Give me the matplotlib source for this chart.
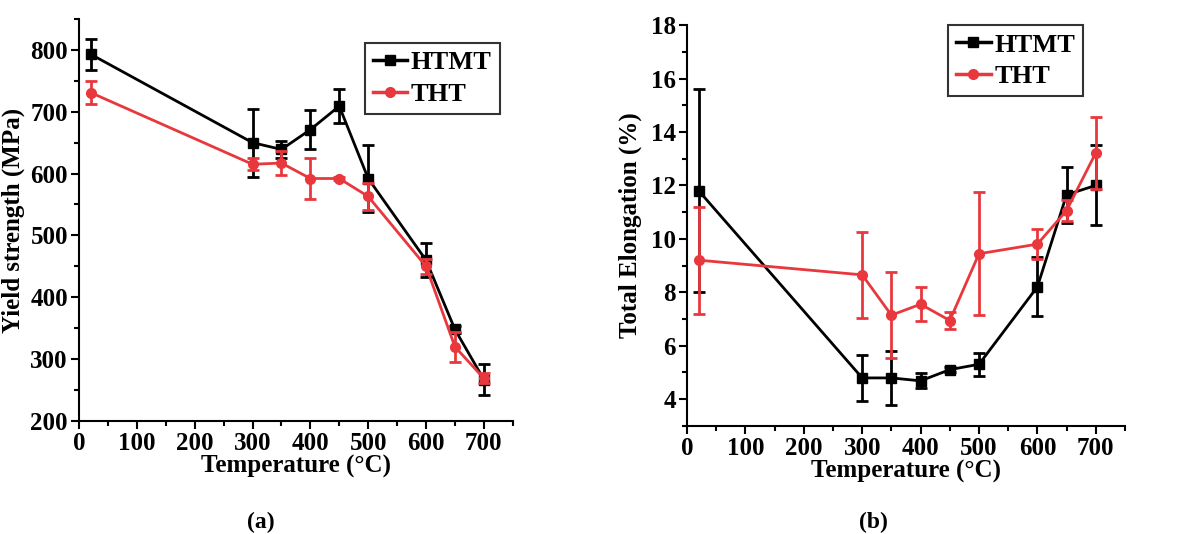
import numpy as np
import matplotlib
matplotlib.use("Agg")
import matplotlib.pyplot as plt
from matplotlib.ticker import MultipleLocator
from matplotlib.lines import Line2D

plt.rcParams['font.family'] = ['Liberation Serif', 'DejaVu Serif']
plt.rcParams['font.weight'] = 'bold'

temps = [20, 300, 350, 400, 450, 500, 600, 650, 700]

# yield strength (MPa)
ys_htmt = [793, 650, 639, 671, 709, 592, 460, 348, 267]
ys_htmt_err = [25, 55, 14, 31, 27, 54, 28, 5, 25]
ys_tht = [731, 615, 617, 592, 592, 563, 450, 320, 269]
ys_tht_err = [18, 10, 20, 33, 3, 22, 12, 24, 8]

# total elongation (%)
el_htmt = [11.8, 4.79, 4.79, 4.68, 5.1, 5.3, 8.2, 11.65, 12.0]
el_htmt_err = [3.8, 0.85, 1.0, 0.28, 0.1, 0.42, 1.1, 1.05, 1.5]
el_tht = [9.2, 8.65, 7.14, 7.55, 6.94, 9.44, 9.8, 11.06, 13.22]
el_tht_err = [2.0, 1.6, 1.6, 0.63, 0.33, 2.3, 0.55, 0.4, 1.35]

black = '#000000'
red = '#e8383d'

fig = plt.figure(figsize=(11.95, 5.34), dpi=100)
ax1 = fig.add_axes([0.0661, 0.2116, 0.363, 0.753])
ax2 = fig.add_axes([0.5749, 0.2028, 0.3665, 0.750])


def draw(ax, y1, e1, y2, e2, anchor):
    ax.errorbar(temps, y1, yerr=e1, color=black, marker='s', ms=7, lw=2,
                elinewidth=2, capsize=4, capthick=2, zorder=3)
    ax.errorbar(temps, y2, yerr=e2, color=red, marker='o', ms=7, lw=2,
                elinewidth=2, capsize=4, capthick=2, zorder=4)
    for s in ['top', 'right']:
        ax.spines[s].set_visible(False)
    for s in ['left', 'bottom']:
        ax.spines[s].set_linewidth(1.5)
    ax.set_xlim(0, 750)
    ax.xaxis.set_major_locator(MultipleLocator(100))
    ax.xaxis.set_minor_locator(MultipleLocator(50))
    ax.tick_params(which='major', length=6, width=1.5, labelsize=18, pad=2)
    ax.tick_params(which='minor', length=3.5, width=1.5)
    ax.set_xlabel('Temperature (°C)', fontsize=18, fontweight='bold', labelpad=0)
    handles = [Line2D([], [], color=black, marker='s', ms=7, lw=2.5),
               Line2D([], [], color=red, marker='o', ms=7, lw=2.5)]
    leg = ax.legend(handles, ['HTMT', 'THT'], loc='upper right', bbox_to_anchor=anchor,
                    fontsize=19, frameon=True, fancybox=False,
                    edgecolor='black', handlelength=1.3, handletextpad=0.15,
                    borderpad=0.3, labelspacing=0.3, borderaxespad=0.0)
    leg.get_frame().set_linewidth(1.5)


draw(ax1, ys_htmt, ys_htmt_err, ys_tht, ys_tht_err, (0.97, 0.94))
ax1.set_ylim(200, 850)
ax1.set_yticks([200, 300, 400, 500, 600, 700, 800])
ax1.yaxis.set_minor_locator(MultipleLocator(50))
ax1.set_ylabel('Yield strength (MPa)', fontsize=18, fontweight='bold', labelpad=4)

draw(ax2, el_htmt, el_htmt_err, el_tht, el_tht_err, (0.905, 1.0))
ax2.set_ylim(3, 18)
ax2.set_yticks([4, 6, 8, 10, 12, 14, 16, 18])
ax2.yaxis.set_minor_locator(MultipleLocator(1))
ax2.set_ylabel('Total Elongation (%)', fontsize=18, fontweight='bold', labelpad=6)

fig.text(0.218, 0.012, '(a)', ha='center', fontsize=17)
fig.text(0.731, 0.012, '(b)', ha='center', fontsize=17)

fig.savefig('out.png', dpi=100)
